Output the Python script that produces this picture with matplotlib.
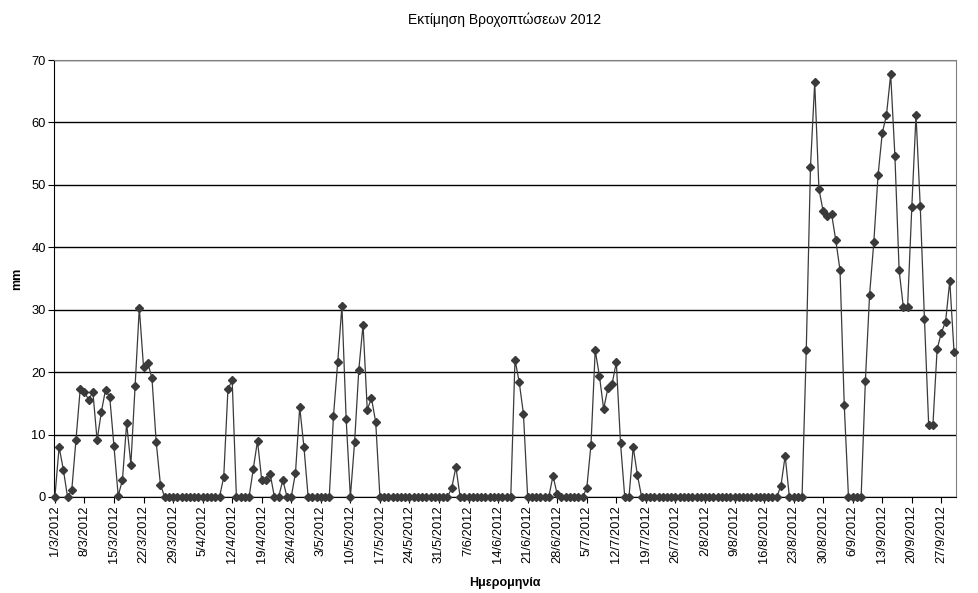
import matplotlib
matplotlib.use("Agg")
import matplotlib.pyplot as plt
import pandas as pd

# daily rainfall (mm), 1/3/2012 - 30/9/2012
march = [0, 8.0, 4.4, 0, 1.1, 9.1, 17.3, 16.8, 15.6, 16.8, 9.1, 13.6, 17.2, 16.0, 8.2, 0.2,
         2.7, 11.8, 5.2, 17.7, 30.3, 20.8, 21.5, 19.0, 8.8, 2.0, 0, 0, 0, 0, 0]
april = [0, 0, 0, 0, 0, 0, 0, 0, 0, 3.2, 17.3, 18.7, 0, 0, 0, 0, 4.5, 9.0, 2.7, 2.8,
         3.7, 0, 0, 2.7, 0, 0, 3.9, 14.4, 8.0, 0]
may = [0, 0, 0, 0, 0, 13.0, 21.6, 30.6, 12.5, 0, 8.8, 20.4, 27.6, 14.0, 15.8, 12.0,
       0, 0, 0, 0, 0, 0, 0, 0, 0, 0, 0, 0, 0, 0, 0]
june = [0, 0, 1.4, 4.8, 0, 0, 0, 0, 0, 0, 0, 0, 0, 0, 0, 0, 0, 22.0, 18.4, 13.3,
        0, 0, 0, 0, 0, 0, 3.4, 0.4, 0, 0]
july = [0, 0, 0, 0, 1.4, 8.4, 23.5, 19.4, 14.1, 17.4, 18.1, 21.6, 8.6, 0, 0, 8.0,
        3.5, 0, 0, 0, 0, 0, 0, 0, 0, 0, 0, 0, 0, 0, 0]
august = [0, 0, 0, 0, 0, 0, 0, 0, 0, 0, 0, 0, 0, 0, 0, 0, 0, 0, 0, 1.8, 6.6,
          0, 0, 0, 0, 23.6, 52.9, 66.4, 49.3, 45.8, 45.0]
september = [45.3, 41.1, 36.3, 14.7, 0, 0, 0, 0, 18.6, 32.4, 40.8, 51.5, 58.3, 61.2,
             67.7, 54.6, 36.3, 30.4, 30.4, 46.4, 61.2, 46.6, 28.5, 11.5, 11.5, 23.7,
             26.3, 28.1, 34.6, 23.3]

rain = march + april + may + june + july + august + september
dates = pd.date_range("2012-03-01", periods=len(rain), freq="D")
x = list(range(len(rain)))
tick_pos = x[::7]
tick_labels = [f"{d.day}/{d.month}/{d.year}" for d in dates[::7]]

plt.rcParams["font.family"] = ["Liberation Sans", "DejaVu Sans"]

fig = plt.figure(figsize=(9.79, 5.93), dpi=100)
ax = fig.add_axes([0.0552, 0.1619, 0.921, 0.7369])

ax.plot(x, rain, color="#3a3a3a", linewidth=0.9, marker="D", markersize=4.3,
        markerfacecolor="#3a3a3a", markeredgecolor="#3a3a3a", clip_on=False, zorder=3)

ax.set_xlim(-0.2, len(rain) - 0.6)
ax.set_ylim(0, 70)
ax.set_yticks(range(0, 71, 10))
ax.yaxis.grid(True, color="black", linewidth=1)
ax.set_axisbelow(True)

ax.set_xticks(tick_pos)
ax.set_xticklabels(tick_labels, rotation=90, fontsize=9.3)
ax.tick_params(axis="y", labelsize=9.3, length=4, direction="out", pad=2)
ax.tick_params(axis="x", length=4, direction="out", pad=2)

for side in ["top", "right"]:
    ax.spines[side].set_color("#808080")
for side in ["left", "bottom"]:
    ax.spines[side].set_color("black")

ax.set_title("Εκτίμηση Βροχοπτώσεων 2012", fontsize=10, pad=26)
ax.set_xlabel("Ημερομηνία", fontsize=9, fontweight="bold", labelpad=10)
ax.set_ylabel("mm", fontsize=9, fontweight="bold", labelpad=6)

fig.savefig("out.png", dpi=100)
